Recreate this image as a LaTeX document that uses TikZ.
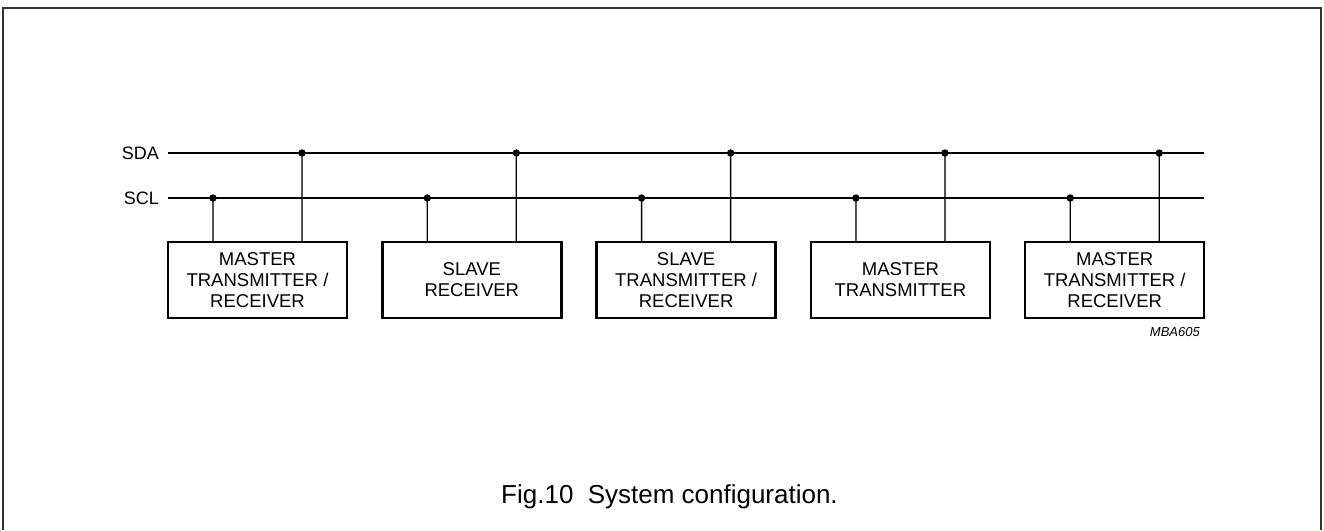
\documentclass[tikz,border=0pt]{standalone}
\usepackage{fontspec}
\setmainfont{Liberation Sans}
\usetikzlibrary{positioning}

\begin{document}
\begin{tikzpicture}[
    x=1pt, y=-1pt,
    node distance=35.3pt,
    unit/.style     = {rectangle, draw, line width=2.4pt, outer sep=0pt, inner sep=0pt,
                       minimum width=179pt, minimum height=76pt, align=center,
                       font=\fontsize{18.5}{21}\selectfont},
    buslabel/.style = {anchor=east, inner xsep=9pt, inner ysep=0pt,
                       font=\fontsize{18}{21}\selectfont},
    wire/.style     = {line width=1.3pt},
    frame/.style    = {line width=2pt, draw=black!80},
    code/.style     = {inner sep=0pt, font=\fontsize{13}{15}\selectfont\itshape},
    caption/.style  = {inner sep=0pt, font=\fontsize{26}{30}\selectfont}
]
\useasboundingbox (0,0) rectangle (1324,530);

% ========= frame =========
\draw[frame] (3,530) -- (3,8) -- (1321,8) -- (1321,530);

% ========= devices =========
\node[unit]                  (mtr1) at (257.5,280) {MASTER\\TRANSMITTER /\\RECEIVER};
\node[unit, right=of mtr1]   (srx)  {SLAVE\\RECEIVER};
\node[unit, right=of srx]    (str)  {SLAVE\\TRANSMITTER /\\RECEIVER};
\node[unit, right=of str]    (mtx)  {MASTER\\TRANSMITTER};
\node[unit, right=of mtx]    (mtr2) {MASTER\\TRANSMITTER /\\RECEIVER};

% ========= bus lines =========
\node[buslabel] (sda) at (168,153) {SDA};
\node[buslabel] (scl) at (168,198) {SCL};
\draw[wire] (sda.east) -- (sda.east -| mtr2.north east);
\draw[wire] (scl.east) -- (scl.east -| mtr2.north east);

% ========= taps: SCL at 45pt, SDA at 134pt from the left edge =========
\filldraw[wire] ([xshift=45pt]mtr1.north west)  -- ([xshift=45pt]mtr1.north west |- scl.east)  circle[radius=3pt];
\filldraw[wire] ([xshift=134pt]mtr1.north west) -- ([xshift=134pt]mtr1.north west |- sda.east) circle[radius=3pt];
\filldraw[wire] ([xshift=45pt]srx.north west)   -- ([xshift=45pt]srx.north west |- scl.east)   circle[radius=3pt];
\filldraw[wire] ([xshift=134pt]srx.north west)  -- ([xshift=134pt]srx.north west |- sda.east)  circle[radius=3pt];
\filldraw[wire] ([xshift=45pt]str.north west)   -- ([xshift=45pt]str.north west |- scl.east)   circle[radius=3pt];
\filldraw[wire] ([xshift=134pt]str.north west)  -- ([xshift=134pt]str.north west |- sda.east)  circle[radius=3pt];
\filldraw[wire] ([xshift=45pt]mtx.north west)   -- ([xshift=45pt]mtx.north west |- scl.east)   circle[radius=3pt];
\filldraw[wire] ([xshift=134pt]mtx.north west)  -- ([xshift=134pt]mtx.north west |- sda.east)  circle[radius=3pt];
\filldraw[wire] ([xshift=45pt]mtr2.north west)  -- ([xshift=45pt]mtr2.north west |- scl.east)  circle[radius=3pt];
\filldraw[wire] ([xshift=134pt]mtr2.north west) -- ([xshift=134pt]mtr2.north west |- sda.east) circle[radius=3pt];

% ========= labels =========
\node[code, anchor=base east] (ref) at (1200,336) {MBA605};
\node[caption, anchor=base west] (cap) at (501,503) {Fig.10\hspace{0.55em}System configuration.};
\end{tikzpicture}
\end{document}
